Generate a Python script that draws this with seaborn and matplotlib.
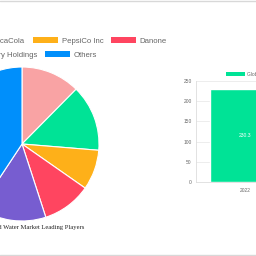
import seaborn as sns
import matplotlib.pyplot as plt
from matplotlib.patches import Patch
from matplotlib.lines import Line2D

sns.set_theme(style="white")
plt.rcParams['font.family'] = ['Liberation Sans', 'DejaVu Sans']

# Data
players = ['Nestle', 'CocaCola', 'PepsiCo Inc', 'Danone', 'Suntory Holdings', 'Others']
shares = [12.4, 13.9, 8.4, 10.3, 14.3, 40.7]
pie_colors = ['#F9A3A4', '#00E396', '#FEB019', '#FF4560', '#775DD0', '#008FFB']

years = ['2022']
market_size = [230.3]
bar_label = 'Global Market Size'
bar_color = '#00E396'

W = 256
fig = plt.figure(figsize=(2.56, 2.56), dpi=100)

def px(x, y, w, h):
    # pixel box (top-left origin) -> figure fraction
    return [x / W, 1 - (y + h) / W, w / W, h / W]

# Pie (partly cut off on the left like the page screenshot)
cx, cy, r = 22, 144, 77
ax_pie = fig.add_axes(px(cx - r, cy - r, 2 * r, 2 * r))
ax_pie.pie(shares, colors=pie_colors, startangle=90, counterclock=False, radius=1,
           wedgeprops=dict(edgecolor='white', linewidth=0.8))
ax_pie.set_xlim(-1, 1)
ax_pie.set_ylim(-1, 1)
ax_pie.axis('off')

# pie legend, two flowing rows
handles = [Patch(facecolor=c, edgecolor='none') for c in pie_colors]
leg_kw = dict(frameon=False, fontsize=5.6, handlelength=3.2, handleheight=0.85,
              handletextpad=0.5, columnspacing=1.0, borderpad=0, borderaxespad=0,
              bbox_transform=fig.transFigure, labelcolor='#666666', loc='center right')
fig.legend(handles[:4], players[:4], ncol=4,
           bbox_to_anchor=(167 / W, 1 - 41 / W), **leg_kw)
fig.legend(handles[4:], players[4:], ncol=2,
           bbox_to_anchor=(97 / W, 1 - 55 / W), **leg_kw)

fig.text(23 / W, 1 - 227 / W, 'Global Bottled Water Market Leading Players',
         ha='center', va='center', fontsize=4.8, color='#222222',
         family=['Liberation Serif', 'DejaVu Serif'])

# Bar chart
ax_bar = fig.add_axes(px(196, 81, 98, 101))
sns.barplot(x=years, y=market_size, color=bar_color, width=0.72, ax=ax_bar,
            saturation=1)
ax_bar.set_xlim(-0.5, 0.5)
ax_bar.set_ylim(0, 250)
ax_bar.set_yticks([0, 50, 100, 150, 200, 250])
ax_bar.set_xticks([-0.5], minor=True)
ax_bar.grid(axis='y', color='#e6e6e6', linewidth=0.5)
ax_bar.set_axisbelow(True)
for s in ['top', 'right']:
    ax_bar.spines[s].set_visible(False)
for s in ['left', 'bottom']:
    ax_bar.spines[s].set_color('#dddddd')
    ax_bar.spines[s].set_linewidth(0.6)
ax_bar.tick_params(axis='both', which='major', labelsize=3.5, labelcolor='#666666',
                   color='#dddddd', length=2.2, width=0.5, pad=1)
ax_bar.tick_params(axis='x', which='major', length=0, pad=4)
ax_bar.tick_params(axis='x', which='minor', length=2.2, width=0.5, color='#dddddd')
ax_bar.set_xlabel('')
ax_bar.set_ylabel('')
for i, v in enumerate(market_size):
    ax_bar.text(i, v / 2, f'{v}', ha='center', va='center', fontsize=3.6, color='white')
ax_bar.legend(handles=[Patch(facecolor=bar_color, edgecolor='none')], labels=[bar_label],
              frameon=False, fontsize=3.5, handlelength=3.9, handleheight=0.95,
              handletextpad=0.5, borderpad=0, borderaxespad=0, labelcolor='#666666',
              loc='center left', bbox_to_anchor=(226 / W, 1 - 74 / W),
              bbox_transform=fig.transFigure)

# page frame lines
fig.add_artist(Line2D([0, 1], [1 - 0.5 / W, 1 - 0.5 / W], color='#d8d8d8', lw=1))
fig.add_artist(Line2D([0, 1], [1.5 / W, 1.5 / W], color='#d8d8d8', lw=1))

fig.savefig('out.png', dpi=100)
